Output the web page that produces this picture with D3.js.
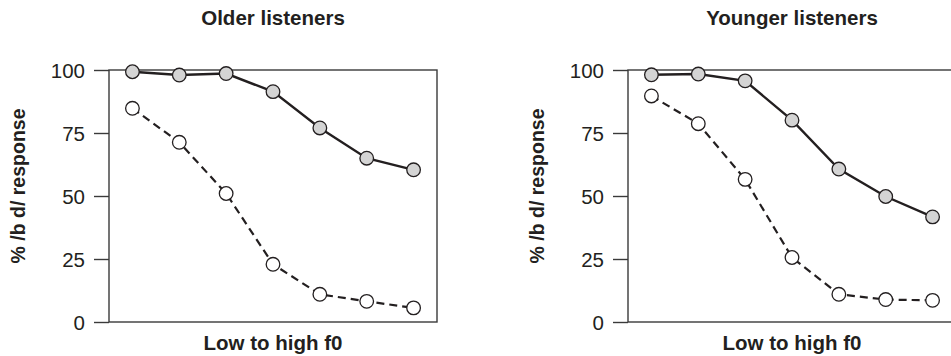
<!DOCTYPE html>
<html>
<head>
<meta charset="utf-8">
<script src="https://cdn.jsdelivr.net/npm/d3@7"></script>
<style>
  html, body { margin: 0; padding: 0; background: #fff; }
  svg { display: block; font-family: "Liberation Sans", Arial, Helvetica, sans-serif; }
</style>
</head>
<body>
<svg id="chart" width="951" height="356"></svg>
<script>
// Stimulus steps along the f0 continuum (low → high)
const steps = [1, 2, 3, 4, 5, 6, 7];
const yTicks = [0, 25, 50, 75, 100];

// Percentage of /b d/ responses, older listeners
const olderFilled = [99.3, 98.0, 98.6, 91.4, 77.0, 65.0, 60.4];
const olderOpen   = [84.8, 71.3, 51.0, 22.9, 11.0, 8.2, 5.6];

// Percentage of /b d/ responses, younger listeners
const youngerFilled = [98.1, 98.4, 95.7, 80.1, 60.7, 49.8, 41.7];
const youngerOpen   = [89.7, 78.7, 56.6, 25.6, 11.0, 8.9, 8.6];

const panelTitles = ["Older listeners", "Younger listeners"];
const xLabel = "Low to high f0";
const yLabel = "% /b d/ response";

const panels = [
  { title: panelTitles[0], filled: olderFilled, open: olderOpen, left: 109 },
  { title: panelTitles[1], filled: youngerFilled, open: youngerOpen, left: 628 }
];

const svg = d3.select("#chart");
const plotW = 328, plotTop = 70, plotH = 252;
const ink = "#231f20";

const x = d3.scalePoint().domain(steps).range([0, plotW]).padding(0.5);
const y = d3.scaleLinear().domain([0, 100]).range([plotH, 0]);

const line = d3.line()
  .x((d, i) => x(steps[i]))
  .y(d => y(d));

panels.forEach(p => {
  const g = svg.append("g").attr("transform", `translate(${p.left},${plotTop})`);

  // frame
  g.append("rect")
    .attr("x", 0).attr("y", 0)
    .attr("width", plotW).attr("height", plotH)
    .attr("fill", "none")
    .attr("stroke", "#3a3a3a")
    .attr("stroke-width", 1.4);

  // y axis
  const yAxis = d3.axisLeft(y).tickValues(yTicks).tickSize(15).tickPadding(9);
  const ya = g.append("g").call(yAxis);
  ya.select(".domain").remove();
  ya.selectAll(".tick line").attr("stroke", "#3a3a3a").attr("stroke-width", 1.4);
  ya.selectAll(".tick text")
    .attr("fill", ink)
    .style("font-size", "20.5px")
    .attr("dy", "0.36em");

  // dashed series (open markers)
  g.append("path")
    .datum(p.open)
    .attr("d", line)
    .attr("fill", "none")
    .attr("stroke", ink)
    .attr("stroke-width", 2.2)
    .attr("stroke-dasharray", "8,5");

  // solid series (filled markers)
  g.append("path")
    .datum(p.filled)
    .attr("d", line)
    .attr("fill", "none")
    .attr("stroke", ink)
    .attr("stroke-width", 2.4);

  g.selectAll(".open")
    .data(p.open)
    .join("circle")
    .attr("class", "open")
    .attr("cx", (d, i) => x(steps[i]))
    .attr("cy", d => y(d))
    .attr("r", 6.8)
    .attr("fill", "#fff")
    .attr("stroke", ink)
    .attr("stroke-width", 1.3);

  g.selectAll(".filled")
    .data(p.filled)
    .join("circle")
    .attr("class", "filled")
    .attr("cx", (d, i) => x(steps[i]))
    .attr("cy", d => y(d))
    .attr("r", 6.8)
    .attr("fill", "#d4d4d4")
    .attr("stroke", ink)
    .attr("stroke-width", 1.3);

  // panel title
  svg.append("text")
    .attr("x", p.left + plotW / 2)
    .attr("y", 25)
    .attr("text-anchor", "middle")
    .attr("fill", ink)
    .style("font-size", "20.5px")
    .style("font-weight", "bold")
    .text(p.title);

  // x axis label
  svg.append("text")
    .attr("x", p.left + plotW / 2)
    .attr("y", 350)
    .attr("text-anchor", "middle")
    .attr("fill", ink)
    .style("font-size", "20.5px")
    .style("font-weight", "bold")
    .text(xLabel);

  // y axis label
  svg.append("text")
    .attr("transform", `translate(${p.left - 84},186) rotate(-90)`)
    .attr("text-anchor", "middle")
    .attr("fill", ink)
    .style("font-size", "19.5px")
    .style("font-weight", "bold")
    .text(yLabel);
});
</script>
</body>
</html>
